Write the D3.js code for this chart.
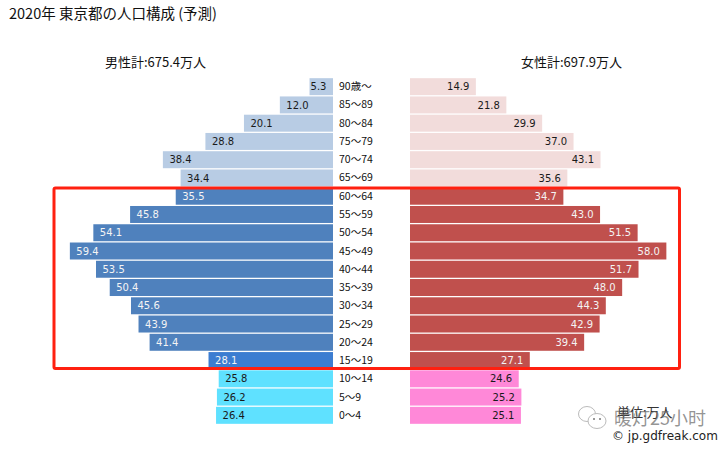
<!DOCTYPE html>
<html><head><meta charset="utf-8">
<script src="https://cdnjs.cloudflare.com/ajax/libs/d3/7.8.5/d3.min.js"></script>
<style>html,body{margin:0;padding:0;background:#fff}svg{display:block}</style></head>
<body><svg id="c" width="728" height="451"></svg>
<script>
const ageLabels=["90歳～","85～89","80～84","75～79","70～74","65～69","60～64","55～59","50～54","45～49","40～44","35～39","30～34","25～29","20～24","15～19","10～14","5～9","0～4"];
const maleValues=[5.3,12.0,20.1,28.8,38.4,34.4,35.5,45.8,54.1,59.4,53.5,50.4,45.6,43.9,41.4,28.1,25.8,26.2,26.4];
const femaleValues=[14.9,21.8,29.9,37.0,43.1,35.6,34.7,43.0,51.5,58.0,51.7,48.0,44.3,42.9,39.4,27.1,24.6,25.2,25.1];
const groupOf=["old","old","old","old","old","old","work","work","work","work","work","work","work","work","work","teen","young","young","young"];
const maleColors={old:"#b8cce4",work:"#4f81bd",teen:"#3c7dd1",young:"#5fe1ff"};
const femaleColors={old:"#f2dcdb",work:"#c0504d",teen:"#c0504d",young:"#ff88d8"};
const titleText="2020年 東京都の人口構成 (予測)";
const maleTotal="男性計:675.4万人", femaleTotal="女性計:697.9万人";

const svg=d3.select("#c");
const font="'Noto Sans CJK JP','DejaVu Sans',sans-serif";
const num="'DejaVu Sans',sans-serif";
const y=d3.scaleBand().domain(ageLabels).range([78,424]).paddingInner(0.07).paddingOuter(0.01);
const xL=d3.scaleLinear().domain([0,60]).range([333,67.2]);
const xR=d3.scaleLinear().domain([0,60]).range([410,675.2]);
const light=g=>g==="old"||g==="young";

svg.append("g").selectAll("rect").data(ageLabels).join("rect")
 .attr("x",(d,i)=>xL(maleValues[i])).attr("y",d=>y(d))
 .attr("width",(d,i)=>xL(0)-xL(maleValues[i])).attr("height",y.bandwidth())
 .attr("fill",(d,i)=>maleColors[groupOf[i]]);
svg.append("g").selectAll("rect").data(ageLabels).join("rect")
 .attr("x",xR(0)).attr("y",d=>y(d))
 .attr("width",(d,i)=>xR(femaleValues[i])-xR(0)).attr("height",y.bandwidth())
 .attr("fill",(d,i)=>femaleColors[groupOf[i]]);

svg.append("g").selectAll("text").data(ageLabels).join("text")
 .attr("x",(d,i)=>xL(maleValues[i])+(maleValues[i]<6?1:6.5)).attr("y",d=>y(d)+y.bandwidth()/2+3.6)
 .attr("font-family",num).attr("font-size",10)
 .attr("fill",(d,i)=>light(groupOf[i])?"#1a1a1a":"#f4f4f4")
 .text((d,i)=>maleValues[i].toFixed(1));
svg.append("g").selectAll("text").data(ageLabels).join("text")
 .attr("x",(d,i)=>xR(femaleValues[i])-6.5).attr("y",d=>y(d)+y.bandwidth()/2+3.6)
 .attr("text-anchor","end").attr("font-family",num).attr("font-size",10)
 .attr("fill",(d,i)=>light(groupOf[i])?"#1a1a1a":"#f4f4f4")
 .text((d,i)=>femaleValues[i].toFixed(1));
svg.append("g").selectAll("text").data(ageLabels).join("text")
 .attr("x",339).attr("y",d=>y(d)+y.bandwidth()/2+3.5)
 .attr("font-family",font).attr("font-size",10.5).attr("fill","#111")
 .text(d=>d);

svg.append("rect").attr("x",54).attr("y",188).attr("width",625.5).attr("height",180.5).attr("rx",1.5)
 .attr("fill","none").attr("stroke","#ff2010").attr("stroke-width",3);

svg.append("text").attr("x",9).attr("y",19).attr("font-family",font).attr("font-size",14.5).attr("fill","#111").text(titleText);
svg.append("text").attr("x",105).attr("y",67).attr("font-family",font).attr("font-size",13).attr("fill","#111").text(maleTotal);
svg.append("text").attr("x",521).attr("y",67).attr("font-family",font).attr("font-size",13).attr("fill","#111").text(femaleTotal);

// unit note overlapped by the watermark, and credit
svg.append("text").attr("x",617).attr("y",417).attr("font-family",font).attr("font-size",13).attr("fill","#333").text("単位:万人");
svg.append("text").attr("x",614).attr("y",425).attr("font-family",font).attr("font-size",18).attr("fill","#666").attr("fill-opacity",0.7).text("暖灯25小时");
svg.append("text").attr("x",612).attr("y",440).attr("font-family",num).attr("font-size",12).attr("fill","#222").text("© jp.gdfreak.com");
// WeChat style watermark icon
const wm=svg.append("g").attr("fill","#fff").attr("stroke","#bbb").attr("stroke-width",1);
wm.append("ellipse").attr("cx",587).attr("cy",414).attr("rx",8.5).attr("ry",7.5);
wm.append("ellipse").attr("cx",597).attr("cy",421).attr("rx",9).attr("ry",7.5);
wm.selectAll("circle").data([[594,419],[600,419]]).join("circle").attr("cx",d=>d[0]).attr("cy",d=>d[1]).attr("r",1).attr("fill","#777").attr("stroke","none");
</script></body></html>
